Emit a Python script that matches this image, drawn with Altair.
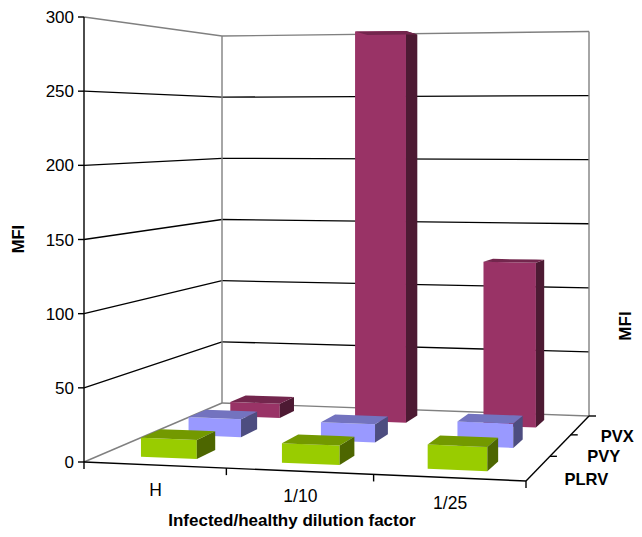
import altair as alt
import numpy as np
import pandas as pd

categories = ["H", "1/10", "1/25"]
series = ["PLRV", "PVY", "PVX"]
plrv = [13, 13, 16]
pvy = [13, 13, 17]
pvx = [11, 297, 123]
y_ticks = [0, 50, 100, 150, 200, 250, 300]
front_colors = {"PLRV": "#99cc00", "PVY": "#9999ff", "PVX": "#993366"}
side_colors = {"PLRV": "#4d6600", "PVY": "#4d4d80", "PVX": "#4d1a33"}
top_colors = {"PLRV": "#739900", "PVY": "#7373bf", "PVX": "#73264d"}
values = {"PLRV": plrv, "PVY": pvy, "PVX": pvx}
FONT = "Liberation Sans"

src = [(0, 0), (1, 0), (1, 1), (0, 1)]
dst = [(84, 462), (526, 481), (589, 416), (222, 403)]
A, b = [], []
for (u, v), (X, Y) in zip(src, dst):
    A.append([u, v, 1, 0, 0, 0, -u * X, -v * X]); b.append(X)
    A.append([0, 0, 0, u, v, 1, -u * Y, -v * Y]); b.append(Y)
H = np.append(np.linalg.solve(np.array(A, float), np.array(b, float)), 1).reshape(3, 3)
S00, S10, S11, S01 = 445.0, 466.0, 384.5, 367.0


def project(u, v, val=0.0):
    p = H @ np.array([u, v, 1.0])
    s = S00 * (1 - u) * (1 - v) + S10 * u * (1 - v) + S11 * u * v + S01 * (1 - u) * v
    return float(p[0] / p[2]), float(p[1] / p[2] - val / 300.0 * s)


def envelope(poly):
    rows = []
    n = len(poly)
    for x in sorted({p[0] for p in poly}):
        ys = []
        for i in range(n):
            (x0, y0), (x1, y1) = poly[i], poly[(i + 1) % n]
            if min(x0, x1) <= x <= max(x0, x1):
                if x0 == x1:
                    ys += [y0, y1]
                else:
                    ys.append(y0 + (x - x0) / (x1 - x0) * (y1 - y0))
        rows.append({"x": x, "y": min(ys), "y2": max(ys)})
    return rows


xs = alt.Scale(domain=[8, 634], range=[0, 626], nice=False, zero=False)
ys = alt.Scale(domain=[529, 8], range=[521, 0], nice=False, zero=False)
X = alt.X("x:Q", scale=xs, axis=None)
Y = alt.Y("y:Q", scale=ys, axis=None)


def segs(pairs, color, width):
    rows = [{"x": a[0], "y": a[1], "x2": c[0], "y2": c[1]} for a, c in pairs]
    return alt.Chart(pd.DataFrame(rows)).mark_rule(color=color, strokeWidth=width).encode(
        x=X, y=Y, x2="x2:Q", y2="y2:Q")


def label(rows, size, bold=False, align="center", angle=0):
    return alt.Chart(pd.DataFrame(rows)).mark_text(
        font=FONT, fontSize=size, fontWeight="bold" if bold else "normal",
        align=align, baseline="middle", angle=angle, color="black"
    ).encode(x=X, y=Y, text="t:N")


layers = []
grid = []
for t in y_ticks[1:-1]:
    grid.append((project(0, 0, t), project(0, 1, t)))
    grid.append((project(0, 1, t), project(1, 1, t)))
layers.append(segs(grid, "#000000", 1.3))

frame = [
    (project(0, 0, 300), project(0, 1, 300)),
    (project(0, 1, 300), project(1, 1, 300)),
    (project(0, 1, 0), project(0, 1, 300)),
    (project(1, 1, 0), project(1, 1, 300)),
    (project(0, 0, 0), project(0, 1, 0)),
    (project(0, 1, 0), project(1, 1, 0)),
]
layers.append(segs(frame, "#808080", 1.4))

BW, BD = 0.40, 0.40
for j in [2, 1, 0]:
    name = series[j]
    for i, cat in enumerate(categories):
        val = values[name][i]
        u0, u1 = (i + .5) / 3 - BW / 6 - 0.002, (i + .5) / 3 + BW / 6 - 0.002
        v0, v1 = (j + .5) / 3 - BD / 6, (j + .5) / 3 + BD / 6
        fl, fr = project(u0, v0), project(u1, v0)
        flt, frt = project(u0, v0, val), project(u1, v0, val)
        br, brt, blt = project(u1, v1), project(u1, v1, val), project(u0, v1, val)
        faces = [
            ([fl, fr, frt, flt], front_colors[name]),
            ([fr, br, brt, frt], side_colors[name]),
            ([flt, frt, brt, blt], top_colors[name]),
        ]
        for poly, col in faces:
            layers.append(alt.Chart(pd.DataFrame(envelope(poly))).mark_area(color=col).encode(
                x=X, y=Y, y2="y2:Q"))

axes = [
    (project(0, 0, 0), project(0, 0, 300)),
    (project(0, 0, 0), project(1, 0, 0)),
    (project(1, 0, 0), project(1, 1, 0)),
]
for t in y_ticks:
    p = project(0, 0, t)
    axes.append(((p[0] - 6, p[1]), p))
for k in range(4):
    p = project(k / 3, 0)
    axes.append((p, (p[0], p[1] + 7)))
for k in range(1, 4):
    p = project(1, k / 3)
    axes.append((p, (p[0] + 7, p[1])))
layers.append(segs(axes, "#000000", 1.4))

layers.append(label([{"x": 74, "y": project(0, 0, t)[1] + 1, "t": str(t)} for t in y_ticks], 17, align="right"))
cat_rows = []
for i, c in enumerate(categories):
    p = project((i + .5) / 3, 0)
    cat_rows.append({"x": p[0] + 1, "y": p[1] + 26, "t": c})
layers.append(label(cat_rows, 17.5))
ser_rows = []
for j, (s, off) in enumerate(zip(series, [48, 43, 37])):
    p = project(1, (j + .5) / 3)
    ser_rows.append({"x": p[0] + off, "y": p[1] + 12, "t": s})
layers.append(label(ser_rows, 16.5, bold=True))
layers.append(label([{"x": 292, "y": 521, "t": "Infected/healthy dilution factor"}], 17, bold=True))
layers.append(label([{"x": 18.5, "y": 239, "t": "MFI"}], 16.5, bold=True, angle=270))
layers.append(label([{"x": 626, "y": 326, "t": "MFI"}], 17, bold=True, angle=270))

chart = alt.layer(*layers).properties(
    width=626, height=521, padding=0, autosize=alt.AutoSizeParams(type="none"),
    background="white"
).configure_view(stroke=None)

chart.save("out.html", embed_options={"renderer": "svg", "actions": False})
